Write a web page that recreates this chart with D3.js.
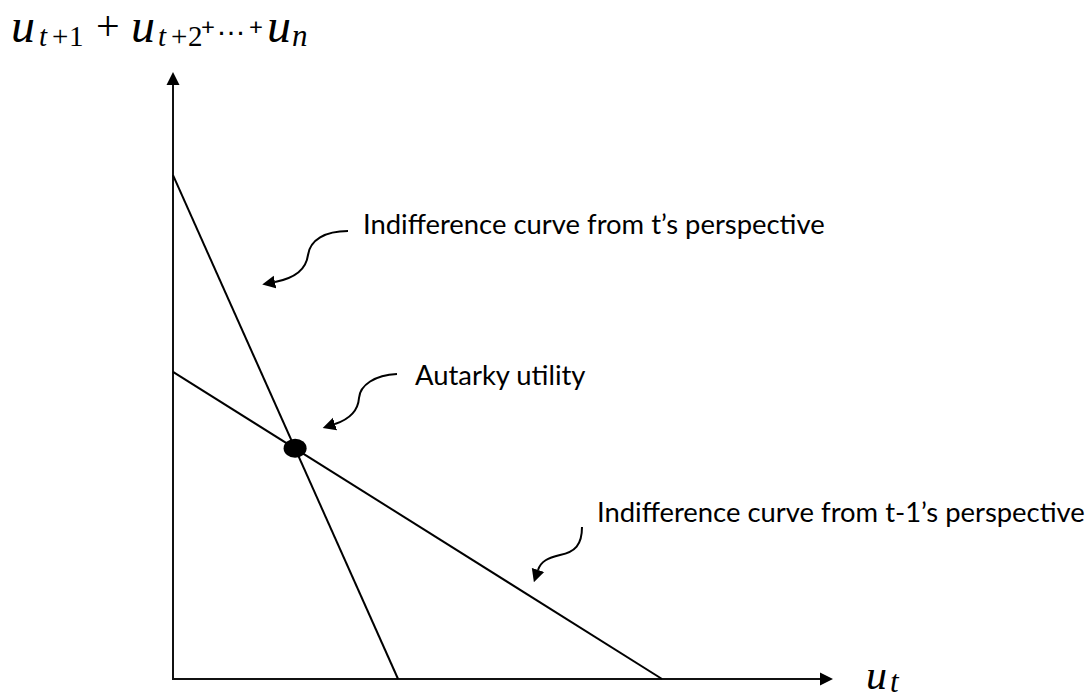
<!DOCTYPE html>
<html>
<head>
<meta charset="utf-8">
<script src="https://cdn.jsdelivr.net/npm/d3@7"></script>
<style>
  body { margin: 0; background: #fff; }
</style>
</head>
<body>
<svg id="chart" width="1091" height="698"></svg>
<script>
// values, axis units run 0..10 on both axes
const curveNames = ["Indifference curve from t\u2019s perspective", "Indifference curve from t-1\u2019s perspective"];
const xIntercepts = [3.41, 7.41];
const yIntercepts = [8.30, 5.06];
const autarkyPoint = [1.85, 3.80];
const pointLabel = "Autarky utility";
const axisMax = [10, 10];

const svg = d3.select("#chart");
const x = d3.scaleLinear().domain([0, axisMax[0]]).range([173, 833]);
const y = d3.scaleLinear().domain([0, axisMax[1]]).range([679, 72]);

const serif = "'Liberation Serif', serif";
const sans = "Lato, 'Open Sans', sans-serif";
const plain = "'Liberation Sans', sans-serif";

//arrow head used by the axes and the curly pointers
svg.append("defs").append("marker")
  .attr("id", "head")
  .attr("markerUnits", "userSpaceOnUse")
  .attr("viewBox", "0 -7 13 14")
  .attr("markerWidth", 13).attr("markerHeight", 14)
  .attr("refX", 0).attr("refY", 0)
  .attr("orient", "auto")
  .append("path").attr("d", "M0,-6.5L13,0L0,6.5Z").attr("fill", "#000");

//axes (the head adds 13px past the line end)
svg.append("line")
  .attr("x1", x(0)).attr("y1", y(0)).attr("x2", x(0)).attr("y2", y(axisMax[1]) + 13)
  .attr("stroke", "#111").attr("stroke-width", 2).attr("marker-end", "url(#head)");
svg.append("line")
  .attr("x1", x(0) - 1).attr("y1", y(0)).attr("x2", x(axisMax[0]) - 13).attr("y2", y(0))
  .attr("stroke", "#111").attr("stroke-width", 2).attr("marker-end", "url(#head)");

//the two indifference curves
svg.selectAll("line.curve")
  .data(xIntercepts)
  .join("line")
  .attr("class", "curve")
  .attr("x1", x(0)).attr("y1", (d, i) => y(yIntercepts[i]))
  .attr("x2", d => x(d)).attr("y2", y(0))
  .attr("stroke", "#000").attr("stroke-width", 2);

//autarky point
svg.append("ellipse")
  .attr("cx", x(autarkyPoint[0])).attr("cy", y(autarkyPoint[1]))
  .attr("rx", 11.5).attr("ry", 9.5)
  .attr("fill", "#000");

//annotations: text + curly pointer
const notes = [
  {text: curveNames[0], tx: 363, ty: 234, d: "M348,231 C325,231 310,240 308,255 C306,270 295,278 275,282"},
  {text: pointLabel, tx: 415, ty: 385, d: "M397,374 C375,375 360,385 359,398 C358,412 347,420 335,424"},
  {text: curveNames[1], tx: 597, ty: 522, d: "M582,527 C582,545 575,552 560,555 C548,558 541,561 538,570"}
];

//size the label font so the first label spans the same width as in the picture
const probe = svg.append("text").attr("font-family", sans).attr("font-size", 26).text(curveNames[0]);
const labelSize = 26 * 462 / probe.node().getComputedTextLength();
probe.remove();

svg.selectAll("path.pointer")
  .data(notes)
  .join("path")
  .attr("class", "pointer")
  .attr("d", d => d.d)
  .attr("fill", "none").attr("stroke", "#000").attr("stroke-width", 2)
  .attr("marker-end", "url(#head)");

svg.selectAll("text.note")
  .data(notes)
  .join("text")
  .attr("class", "note")
  .attr("x", d => d.tx).attr("y", d => d.ty)
  .attr("font-family", sans).attr("font-size", labelSize)
  .attr("fill", "#000")
  .text(d => d.text);

//axis titles built from pieces: [text, x, baseline, size, italic, family]
const yTitle = [
  ["u", 11, 42, 48, true, serif],
  ["t", 39, 46, 29, true, serif],
  ["+", 52, 46, 29, false, serif],
  ["1", 69, 46, 29, false, serif],
  ["+", 96, 40, 42, false, serif],
  ["u", 131, 42, 48, true, serif],
  ["t", 158, 46, 29, true, serif],
  ["+", 171, 46, 29, false, serif],
  ["2", 188, 46, 29, false, serif],
  ["+", 201, 35, 24, false, sans],
  ["\u2026", 216, 35, 30, false, plain],
  ["+", 249, 35, 24, false, sans],
  ["u", 267, 42, 48, true, serif],
  ["n", 292, 46, 31, true, serif]
];
const xTitle = [
  ["u", 866, 689, 42, true, serif],
  ["t", 890, 692, 31, true, serif]
];

function drawTitle(parts) {
  const t = svg.append("text").attr("fill", "#000");
  t.selectAll("tspan")
    .data(parts)
    .join("tspan")
    .attr("x", d => d[1]).attr("y", d => d[2])
    .attr("font-size", d => d[3])
    .attr("font-style", d => d[4] ? "italic" : "normal")
    .attr("font-family", d => d[5])
    .text(d => d[0]);
}
drawTitle(yTitle);
drawTitle(xTitle);
</script>
</body>
</html>
